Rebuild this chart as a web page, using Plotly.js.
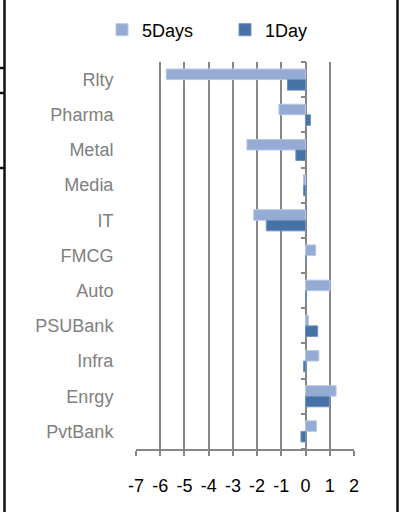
<!DOCTYPE html>
<html>
<head>
<meta charset="utf-8">
<script src="https://cdn.plot.ly/plotly-3.0.1.min.js"></script>
<style>html,body{margin:0;padding:0;background:#fff;}#chart{width:401px;height:512px;}</style>
</head>
<body>
<div id="chart"></div>
<script>
// Sectors, top to bottom
const categories = ["Rlty", "Pharma", "Metal", "Media", "IT", "FMCG", "Auto", "PSUBank", "Infra", "Enrgy", "PvtBank"];
// % change over 5 days
const fiveDays = [-5.75, -1.1, -2.42, -0.09, -2.14, 0.42, 1.01, 0.12, 0.55, 1.26, 0.45];
// % change over 1 day
const oneDay = [-0.75, 0.2, -0.4, -0.08, -1.62, 0.02, 0.03, 0.5, -0.08, 0.98, -0.19];
const xTicks = [-7, -6, -5, -4, -3, -2, -1, 0, 1, 2];

const FONT = "Liberation Sans, Arial, sans-serif";
const GRID = "#878787";

const traces = [
  {type: "bar", orientation: "h", name: "5Days", y: categories, x: fiveDays,
   marker: {color: "#95abd4", line: {color: "#b8c8e6", width: 1}}},
  {type: "bar", orientation: "h", name: "1Day", y: categories, x: oneDay,
   marker: {color: "#4672a8", line: {color: "#6f92bf", width: 1}}}
];

const xmin = xTicks[0], xmax = xTicks[xTicks.length - 1];
const zeroPos = (0 - xmin) / (xmax - xmin);
// paper-coordinate helpers for frame lines (plot area 136..354 x 62..449 px)
const px = v => (v - 136) / 218;
const py = v => (449 - v) / 387;
const frame = {type: "line", xref: "paper", yref: "paper", line: {color: "#111", width: 2.5}};

const layout = {
  width: 401, height: 512,
  margin: {l: 136, r: 47, t: 62, b: 63, pad: 0},
  paper_bgcolor: "#fff", plot_bgcolor: "#fff",
  font: {family: FONT, size: 18, color: "#000"},
  barmode: "group", bargap: 0.4, bargroupgap: 0,
  showlegend: true,
  legend: {orientation: "h", x: px(102), xanchor: "left", y: py(30), yanchor: "middle",
           entrywidth: 78, entrywidthmode: "pixels",
           font: {family: FONT, size: 18, color: "#000"}, bgcolor: "rgba(0,0,0,0)"},
  xaxis: {range: [xmin, xmax], tickvals: xTicks, ticktext: xTicks.map(String),
          showgrid: true, gridcolor: GRID, gridwidth: 2,
          zeroline: true, zerolinecolor: GRID, zerolinewidth: 2,
          showline: true, linecolor: GRID, linewidth: 2,
          ticks: "outside", ticklen: 5, tickcolor: GRID, tickwidth: 2,
          ticklabelstandoff: 14,
          tickfont: {family: FONT, size: 18, color: "#000"}, fixedrange: true},
  yaxis: {type: "category", autorange: "reversed", showgrid: false, zeroline: false,
          showline: false, ticks: "outside", ticklen: 18, tickcolor: "rgba(0,0,0,0)",
          tickfont: {family: FONT, size: 18, color: "#808080"}, fixedrange: true},
  yaxis2: {overlaying: "y", anchor: "free", position: zeroPos, side: "left",
           range: [categories.length - 0.5, -0.5], tick0: -0.5, dtick: 1,
           showgrid: false, zeroline: false, showline: false, showticklabels: false,
           ticks: "outside", ticklen: 5, tickcolor: GRID, tickwidth: 2, fixedrange: true},
  shapes: [
    Object.assign({}, frame, {x0: px(4.5), x1: px(4.5), y0: py(0), y1: py(512)}),
    Object.assign({}, frame, {x0: px(397.5), x1: px(397.5), y0: py(0), y1: py(512)}),
    Object.assign({}, frame, {x0: px(0), x1: px(5), y0: py(68), y1: py(68)}),
    Object.assign({}, frame, {x0: px(0), x1: px(5), y0: py(93), y1: py(93)}),
    Object.assign({}, frame, {x0: px(0), x1: px(5), y0: py(168), y1: py(168)})
  ]
};

// invisible trace so yaxis2 is drawn
traces.push({type: "scatter", x: [null], y: [0], yaxis: "y2", showlegend: false, hoverinfo: "skip"});

Plotly.newPlot("chart", traces, layout, {displayModeBar: false, staticPlot: true});
</script>
</body>
</html>
